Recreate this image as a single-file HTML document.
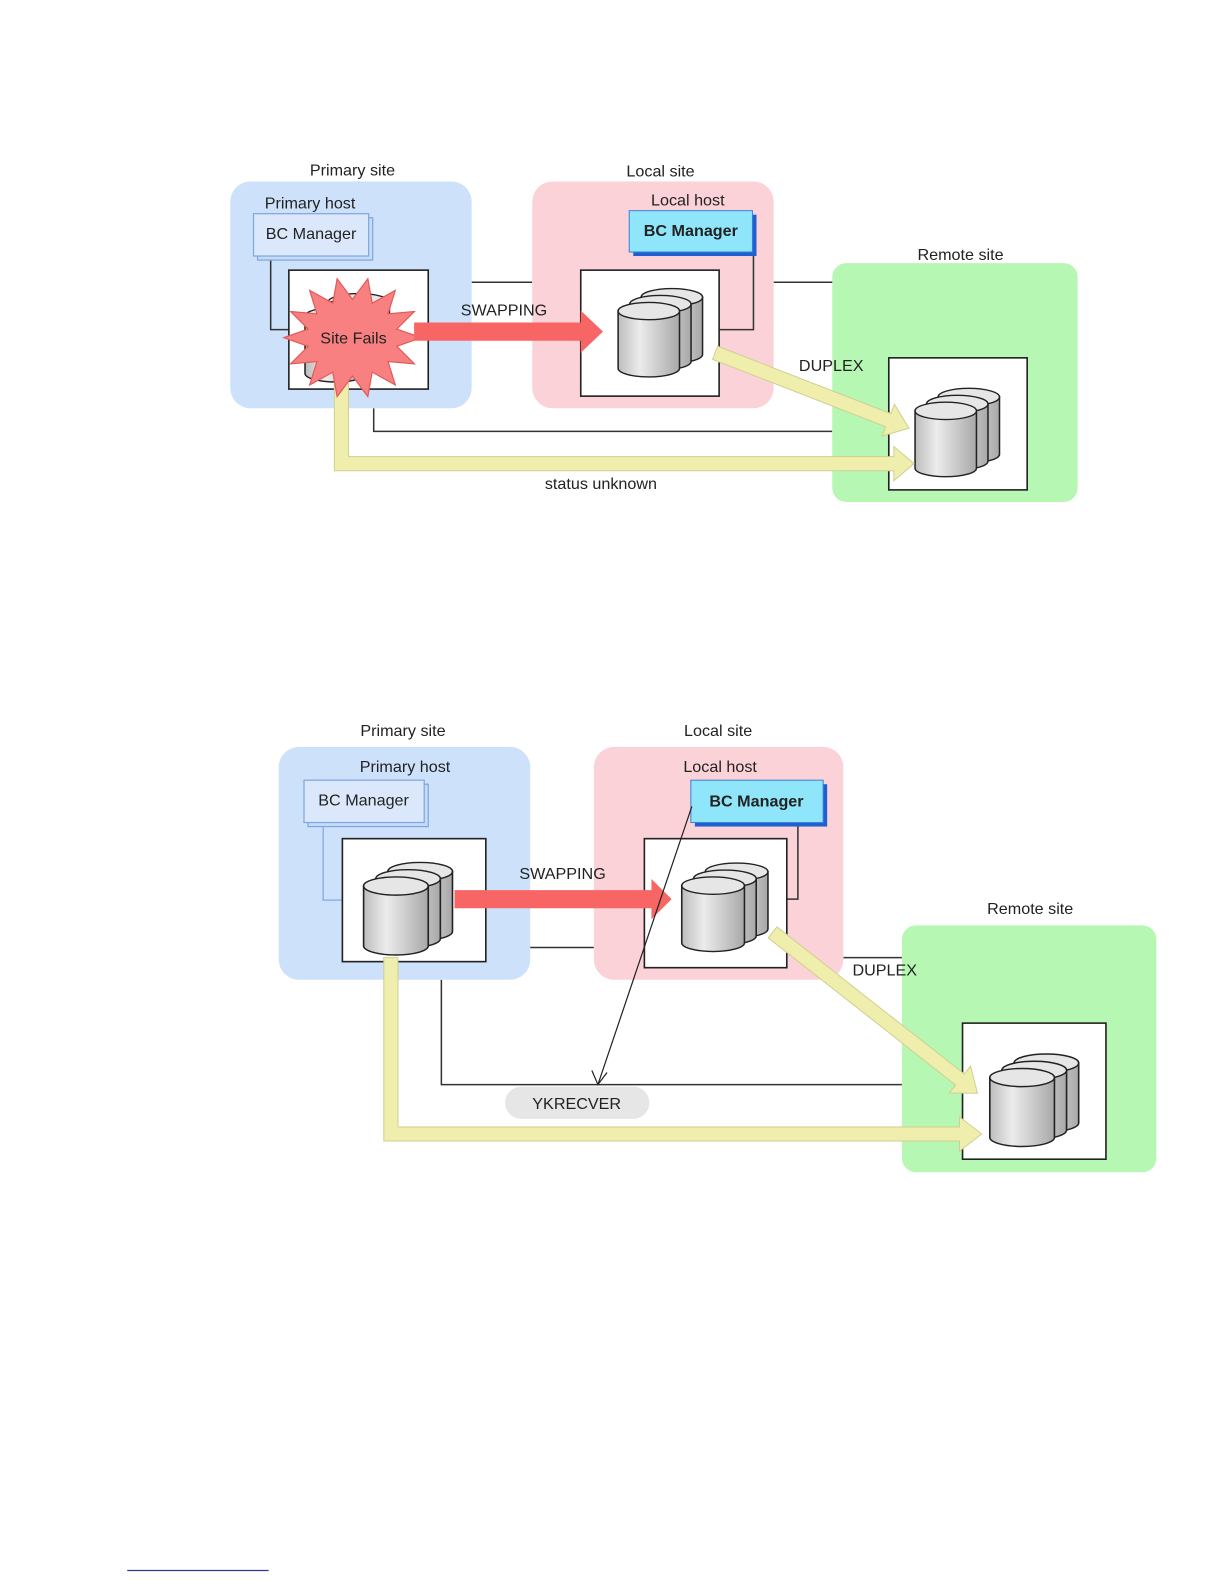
<!DOCTYPE html>
<html><head><meta charset="utf-8"><style>
html,body{margin:0;padding:0;background:#fff;}
svg{display:block;}
text{font-family:"Liberation Sans",sans-serif;font-size:16px;fill:#222;}
</style></head><body>
<svg width="1224" height="1584" viewBox="0 0 1224 1584" xmlns="http://www.w3.org/2000/svg">
<defs>
<linearGradient id="cg" x1="0" x2="1" y1="0" y2="0">
<stop offset="0" stop-color="#bdbdbd"/><stop offset="0.35" stop-color="#ececec"/><stop offset="1" stop-color="#a8a8a8"/>
</linearGradient>
<g id="cyl">
<path d="M0,10 L0,76 A32,10 0 0 0 64,76 L64,10 Z" fill="url(#cg)" stroke="#222" stroke-width="1.6"/>
<ellipse cx="32" cy="10" rx="32" ry="10" fill="#e6e6e6" stroke="#222" stroke-width="1.6"/>
</g>
<g id="stack">
<use href="#cyl" x="24" y="-16"/>
<use href="#cyl" x="12" y="-8"/>
<use href="#cyl" x="0" y="0"/>
</g>
</defs>
<g transform="scale(1.01,1.008)">
<!-- ================= Diagram 1 ================= -->
<polyline points="467,280 527,280" fill="none" stroke="#333" stroke-width="1.5"/>
<polyline points="766,280 825,280" fill="none" stroke="#333" stroke-width="1.5"/>
<polyline points="370,405 370,428 824,428" fill="none" stroke="#333" stroke-width="1.5"/>

<rect x="228" y="180" width="239" height="225" rx="20" fill="#cde1fa"/>
<rect x="527" y="180" width="239" height="225" rx="20" fill="#fcd2d9"/>
<rect x="824" y="261" width="243" height="237" rx="14" fill="#b6f7b4"/>

<text x="349" y="174" text-anchor="middle">Primary site</text>
<text x="654" y="175" text-anchor="middle">Local site</text>
<text x="951" y="258" text-anchor="middle">Remote site</text>
<text x="307" y="207" text-anchor="middle">Primary host</text>
<text x="681" y="204" text-anchor="middle">Local host</text>

<polyline points="268,256 268,327 286,327" fill="none" stroke="#333" stroke-width="1.5"/>
<rect x="255" y="216" width="114" height="42" fill="#c7dbf7" stroke="#7ea6e0" stroke-width="1.2"/>
<rect x="251" y="212" width="114" height="42" fill="#dbe8fb" stroke="#7ea6e0" stroke-width="1.2"/>
<text x="308" y="237" text-anchor="middle">BC Manager</text>

<polyline points="746,250 746,327 712,327" fill="none" stroke="#333" stroke-width="1.5"/>
<rect x="627" y="213" width="122" height="41" fill="#1f5fd0"/>
<rect x="623" y="209" width="122" height="41" fill="#8fe6fb" stroke="#3a7fd8" stroke-width="1"/>
<text x="684" y="234" text-anchor="middle" font-weight="bold">BC Manager</text>

<rect x="286" y="268" width="138" height="118" fill="#fff" stroke="#222" stroke-width="1.6"/>
<rect x="575" y="268" width="137" height="125" fill="#fff" stroke="#222" stroke-width="1.6"/>
<rect x="880" y="355" width="137" height="131" fill="#fff" stroke="#222" stroke-width="1.6"/>

<g transform="translate(302,305) scale(0.95,0.86)"><use href="#stack"/></g>
<g transform="translate(612,300) scale(0.95,0.86)"><use href="#stack"/></g>
<g transform="translate(906,399) scale(0.95,0.86)"><use href="#stack"/></g>

<polygon points="331,380 345,380 345,453 885,453 885,443 905,460 885,477 885,467 331,467" fill="#efeead" stroke="#cfcf90" stroke-width="1"/>
<g transform="translate(708,350) rotate(21.3)">
<polygon points="0,-7 184,-7 184,-17 206,0 184,17 184,7 0,7" fill="#efeead" stroke="#cfcf90" stroke-width="1"/>
</g>

<polygon points="417,335 392.9,343.5 410.3,361 384.2,358.7 391.4,381.9 368.5,369.2 364.2,393.5 349,373 333.8,393.5 329.5,369.2 306.6,381.9 313.8,358.7 287.7,361 305.1,343.5 281,335 305.1,326.5 287.7,309 313.8,311.3 306.6,288.1 329.5,300.8 333.8,276.5 349,297 364.2,276.5 368.5,300.8 391.4,288.1 384.2,311.3 410.3,309 392.9,326.5" fill="#f98080" stroke="#e25a5a" stroke-width="1.2"/>
<text x="350" y="341" text-anchor="middle">Site Fails</text>

<polygon points="410,320 575,320 575,308 597,329 575,350 575,338 410,338" fill="#f76565"/>

<text x="499" y="313" text-anchor="middle" fill="#2a3a55">SWAPPING</text>
<text x="823" y="368" text-anchor="middle">DUPLEX</text>
<text x="595" y="485" text-anchor="middle">status unknown</text>

<!-- ================= Diagram 2 ================= -->
<polyline points="481,940 588,940" fill="none" stroke="#333" stroke-width="1.5"/>
<polyline points="835,950 893,950" fill="none" stroke="#333" stroke-width="1.5"/>
<polyline points="437,972 437,1076 893,1076" fill="none" stroke="#333" stroke-width="1.5"/>

<rect x="276" y="741" width="249" height="231" rx="20" fill="#cde1fa"/>
<rect x="588" y="741" width="247" height="231" rx="20" fill="#fcd2d9"/>
<rect x="893" y="918" width="252" height="245" rx="14" fill="#b6f7b4"/>

<text x="399" y="730" text-anchor="middle">Primary site</text>
<text x="711" y="730" text-anchor="middle">Local site</text>
<text x="1020" y="907" text-anchor="middle">Remote site</text>
<text x="401" y="766" text-anchor="middle">Primary host</text>
<text x="713" y="766" text-anchor="middle">Local host</text>

<polyline points="320,818 320,893 339,893" fill="none" stroke="#8fb2e8" stroke-width="1.5"/>
<rect x="305" y="778" width="119" height="42" fill="#c7dbf7" stroke="#7ea6e0" stroke-width="1.2"/>
<rect x="301" y="774" width="119" height="42" fill="#dbe8fb" stroke="#7ea6e0" stroke-width="1.2"/>
<text x="360" y="799" text-anchor="middle">BC Manager</text>

<polyline points="790,818 790,892 779,892" fill="none" stroke="#333" stroke-width="1.5"/>
<rect x="688" y="778" width="131" height="42" fill="#1f5fd0"/>
<rect x="684" y="774" width="131" height="42" fill="#8fe6fb" stroke="#3a7fd8" stroke-width="1"/>
<text x="749" y="800" text-anchor="middle" font-weight="bold">BC Manager</text>

<rect x="339" y="832" width="142" height="122" fill="#fff" stroke="#222" stroke-width="1.6"/>
<rect x="638" y="832" width="141" height="128" fill="#fff" stroke="#222" stroke-width="1.6"/>
<rect x="953" y="1015" width="142" height="135" fill="#fff" stroke="#222" stroke-width="1.6"/>

<g transform="translate(360,870) scale(1.0,0.9)"><use href="#stack"/></g>
<g transform="translate(675,870) scale(0.97,0.86)"><use href="#stack"/></g>
<g transform="translate(980,1060) scale(1.0,0.9)"><use href="#stack"/></g>

<rect x="500" y="1078" width="143" height="32" rx="16" fill="#e6e6e6"/>
<text x="571" y="1100" text-anchor="middle" fill="#444">YKRECVER</text>

<polygon points="380,950 394,950 394,1118 950,1118 950,1108 972,1125 950,1142 950,1132 380,1132" fill="#efeead" stroke="#cfcf90" stroke-width="1"/>
<g transform="translate(765,925) rotate(38.2)">
<polygon points="0,-7 236,-7 236,-17 258,0 236,17 236,7 0,7" fill="#efeead" stroke="#cfcf90" stroke-width="1"/>
</g>

<polygon points="450,883 645,883 645,872 665,892 645,912 645,901 450,901" fill="#f76565"/>

<line x1="685" y1="800" x2="592" y2="1076" stroke="#222" stroke-width="1.2"/>
<polyline points="586,1062 592,1076 601,1064" fill="none" stroke="#222" stroke-width="1.2"/>

<text x="557" y="872" text-anchor="middle" fill="#2a3a55">SWAPPING</text>
<text x="876" y="968" text-anchor="middle">DUPLEX</text>

<line x1="126" y1="1558" x2="266" y2="1558" stroke="#2a3a8a" stroke-width="1.2"/>
</g>
</svg>
</body></html>
